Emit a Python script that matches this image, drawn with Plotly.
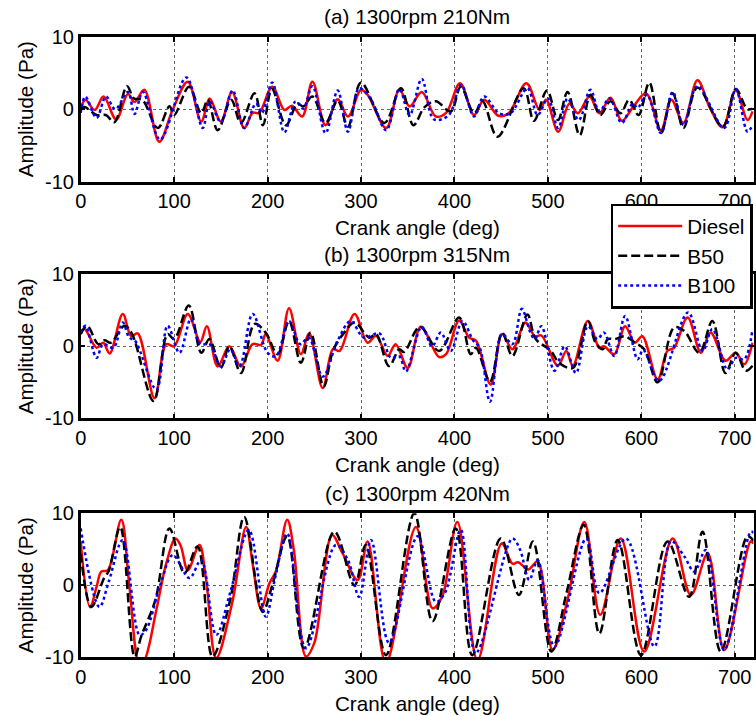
import plotly.graph_objects as go

# ---------------- data (crank angle in deg, amplitude in Pa) ----------------
panel_titles = ["(a) 1300rpm 210Nm", "(b) 1300rpm 315Nm", "(c) 1300rpm 420Nm"]
series_names = ["Diesel", "B50", "B100"]
x_ticks = [0, 100, 200, 300, 400, 500, 600, 700]
y_ticks = [-10, 0, 10]
y_tick_labels = ["-10", "0", "10"]

a_diesel_x = [0, 5, 15, 24.5, 38, 50.5, 57.6, 68, 84, 98.6, 114.6, 129, 138, 150, 162, 175, 184, 191, 205, 218, 226, 237, 248, 262, 275, 286, 300, 307, 327, 341, 352, 365, 380, 391, 406, 421, 431.7, 447, 458, 477, 491, 498, 511, 523, 532, 544.5, 555, 567, 579, 591, 605, 621, 632, 645, 660, 674, 687, 701, 713.5, 719]
a_diesel_y = [0, 1.3, -0.1, 1.75, -1.4, 2.1, 1.0, 2.7, -4.5, 0, 3.8, -1.7, 1.5, -1.7, 2.4, -2.6, -0.5, -0.5, 3.1, -0.1, 0.5, -1, 3.8, -2.2, 1.4, -1, 2.7, 2.0, -2.6, 2.7, 0.4, 2.4, -1, -0.5, 3.6, -0.8, 1.3, -0.9, -0.55, 3.6, -0.1, 1.3, -3.1, 0.8, -0.55, 1.75, -0.55, 1.6, -1.6, 0.3, 2.2, -2.9, 1.3, -1.9, 4.0, 0, -2.5, 2.6, -1.5, -0.3]

a_b50_x = [0, 4, 17, 27, 36, 49.5, 57, 66, 82.5, 95, 100, 116, 129, 136, 146.6, 161, 171.5, 186, 195, 204.6, 219.6, 232, 238, 248, 262, 275, 286, 300, 325, 342.7, 356, 368, 380, 396, 406.7, 421, 430, 446, 474, 485, 499, 510.7, 521, 534, 545.5, 556, 567, 577.6, 587, 597, 608.5, 621, 633.5, 645, 660, 687, 701, 713.5, 719]
a_b50_y = [0, 0.3, -0.8, -0.8, -1.8, 3.2, 1.5, 1.3, -2.6, 0.4, -0.8, 3.1, -0.55, 1.3, -2.9, 1.3, -1.9, 2.2, -2.2, 2.8, -2.2, 0.8, 0.4, 1.75, -1.9, 1.2, -2.4, 3.7, -1.9, 2.9, -2.2, 0.3, 1.1, -0.3, 3.1, -0.55, 1.1, -3.8, 2.9, -1.6, 2.6, -1.5, 2.4, -3.6, 2.0, -0.8, 1.1, -0.55, 1.3, -0.8, 3.7, -3.3, 2.2, -2.6, 3.0, -2.4, 2.8, 0, 0.1]

a_b100_x = [0, 5, 17, 27, 37, 50.5, 57.6, 66.5, 85, 113, 130.6, 138, 150, 162.6, 175, 187.5, 194, 205, 218, 230, 238, 248, 262, 275, 286, 298, 310, 327, 341, 352, 365, 378, 394, 407, 421, 431.7, 447.7, 460, 478, 489, 500, 511, 521, 533, 545.5, 555, 566, 579, 591, 596, 606, 621, 633.5, 645, 660, 688.6, 701, 713.5, 719]
a_b100_y = [-0.5, 1.75, -1.2, 1.75, 0, 2.4, -0.65, 2.4, -4.2, 4.4, -2.6, 1.1, -1.8, 2.6, -2.6, 0.8, -0.5, 3.7, -3.2, 1.1, 0.1, 3.2, -3.3, 2.6, -3.1, 2.9, 1.5, -2.9, 2.8, -0.8, 4.2, -1.4, -0.8, 3.4, -1, 1.75, -0.55, -0.55, 2.9, -0.8, 1.5, -2.6, 1.5, -1.5, 2.7, -0.3, 1.5, -1.9, 0.8, 0.2, 2.0, -3.3, 2.4, -2.2, 3.2, -2.6, 2.8, -3.1, -2.2]

b_diesel_x = [0, 4, 17, 24, 31, 45, 54, 61, 79, 91.5, 100, 114.6, 128, 135, 146.6, 159, 171.5, 184, 193, 198, 210.7, 223, 235.6, 244.5, 259, 270, 277, 293, 307, 316, 328.5, 337, 350, 364, 383.6, 391, 405, 415.7, 423, 438.8, 451, 462, 476, 486, 493, 510.7, 519.6, 526.7, 542.7, 555, 560, 571, 582.6, 593, 601, 617.4, 628, 635, 649.5, 663.7, 674, 690, 701, 710, 719]
b_diesel_y = [1.7, 2.4, -0.2, 0.5, -1, 4.5, 1.4, 1.8, -7.2, 0.3, 0, 4.5, 0.6, 2.8, -2.8, 0, -2.8, 0.3, 0.2, 1.7, -2, 5.3, -1.1, 1.8, -5.8, -0.4, -0.65, 4.5, 0.5, 1.45, -1.35, 0.3, -3, 2.7, -1.5, -1.1, 3.6, 1.2, 0.8, -5.3, 1.7, -0.4, 3.3, 1.4, 1.5, -2.7, -0.65, -2.7, 3.5, -0.2, 0, -1.1, 2.8, 0.5, 1.4, -4.6, -0.6, -0.2, 4, -0.9, 1.9, -2, -0.9, -2.5, 0.5]

b_b50_x = [0, 6.8, 19, 25.6, 32, 47, 55, 78, 93, 100, 115.7, 129, 137.7, 150, 159, 171.5, 186, 198, 210.7, 223, 235.6, 246, 260, 270, 282, 293, 309, 316, 330, 341, 346, 363, 383.6, 405, 417.4, 423, 438, 451, 462, 478, 487, 503, 512, 526.7, 542.7, 551, 558.7, 564, 572, 582, 593, 603, 617.4, 635, 646, 662, 676, 690, 701, 711.7, 719]
b_b50_y = [1.7, 2.85, 0.3, 0.85, 0.5, 2.85, 1.7, -7.6, 1.7, 1, 5.65, -0.9, 1, -3, 0, -3.7, 3.1, 1.9, -1.1, 3.5, -2.3, 1.9, -5.6, -0.6, 1.9, 3.3, 1.2, 1.7, -2.75, -0.4, -0.8, 2.7, -0.65, 4, -1.1, -0.2, -4.9, 1.9, -1.35, 4.4, 1, -0.6, -2.3, -3, 3.5, 0.5, -0.4, 1, 1, 1.4, 0.5, -0.4, -5, 2.6, 2.1, -0.9, 3.5, -3.7, -0.9, -3.4, -2.7]

b_b100_x = [0, 5, 17, 24, 35, 45, 52, 58, 81, 93, 105.7, 118, 128, 138, 150, 160, 170, 184, 200, 209, 223, 235, 244, 259, 275, 289, 303, 319.6, 332, 341, 348, 365, 376, 385.4, 396, 408.5, 420, 427, 438, 451, 462, 472, 481, 486, 493, 507, 518, 530, 542.7, 553, 560, 571, 582.6, 596, 602, 619, 650, 665.5, 676, 692, 701, 710, 719]
b_b100_y = [1.9, 2.85, -1.6, 0.3, -0.2, 3.3, 1.2, 0.8, -6, 2.85, -0.9, 3.8, 0.3, 0.3, -2.8, -0.4, -2.75, 4.5, -0.9, -1.35, 3.5, 0.3, 1.2, -4.2, 0.8, 3.5, 1.2, 1.8, -1.6, -1.4, -3.5, 2.7, 0, 1.9, -0.65, 3.5, 0.8, -0.2, -7.7, 1.7, 0.3, 5.2, 2, 1, 2.8, -3.4, 0, -3.7, 2.8, 1, 1.9, -1.35, 4.2, -1.8, -0.5, -4.8, 4.7, -0.65, 2.4, -3.2, -1.6, -1.8, 2.4]

c_diesel_x = [0, 10, 17, 22, 29, 43.4, 52, 63, 68, 81, 91.5, 101.4, 107, 114.6, 127, 134, 145, 162, 177, 184, 193, 202, 209, 221, 228, 241, 250, 269, 280, 296.4, 307, 326.7, 358.7, 376.5, 387, 403, 424.6, 450.5, 462, 468, 479, 489, 505, 521, 539, 556, 578, 603, 633.5, 653, 671, 688.6, 717, 720]
c_diesel_y = [6.1, -3.05, -0.2, 1.9, 2.1, 9.1, 0, -11, -10.5, -3.4, 3, 6.5, 5.5, 2.1, 5.6, 1, -10.1, -2.5, 8.1, 3, -3.2, 0.3, 2, 9.1, 5, -9.9, -8, 7, 4.5, 0.75, 6.1, -10.8, 8.1, -3.2, -1.5, 8.8, -10.4, 5.8, 3, 3.2, 2.2, 3.3, -9, -2, 8.8, -4.1, 6.5, -9.2, 6.5, -1.35, 4.4, -9, 6.1, 5.8]

c_b50_x = [0, 11.4, 25, 30, 42.3, 57.7, 65, 80, 95, 111, 125, 141, 160, 175, 194.7, 205, 221, 239, 271.5, 293, 305, 326.7, 357, 376.5, 401.4, 419, 449.5, 469, 484, 503.6, 520, 538.4, 555, 574.7, 599.6, 628, 651, 665.5, 685, 713.5, 720]
c_b50_y = [4.4, -3, 1, 2, 8.1, -9.9, -7, -2, 7.9, 1.7, 5.4, -9.9, -2, 9.5, -3.7, 0, 6.8, -8.75, 7.45, 0, 5.6, -9.7, 10, -5, 7.9, -9.7, 6.5, -1.35, 6.1, -9.2, -1, 8.4, -6.7, 6.3, -9.7, 6.1, -1.6, 7.45, -9.2, 6.8, 6.2]

c_b100_x = [0, 20, 30, 45, 63, 70, 85, 98.6, 116.4, 128.8, 145, 160, 180, 198, 208, 221, 241, 273, 286, 298, 310.7, 330, 360.5, 380, 390, 406.7, 422.8, 462, 470, 480, 489, 507, 541, 555, 583.6, 614, 631.7, 646, 656.6, 669, 688.6, 717, 720]
c_b100_y = [7.9, -3, 0.5, 6.3, -6.9, -6.2, 0, 4.2, 1, 3.5, -6.9, -1, 7.7, -4.35, 1, 7.2, -8.75, 5.6, 3.5, -1.6, 6.3, -8, 6.8, -2.3, -1, 7.7, -9.4, 6.5, 5, 0.75, 3.5, -8.5, 6.5, -1.1, 6.5, -8.5, 6.1, 4, 1.9, 4.9, -9, 7.45, 7.3]

panels = [
    [(a_diesel_x, a_diesel_y), (a_b50_x, a_b50_y), (a_b100_x, a_b100_y)],
    [(b_diesel_x, b_diesel_y), (b_b50_x, b_b50_y), (b_b100_x, b_b100_y)],
    [(c_diesel_x, c_diesel_y), (c_b50_x, c_b50_y), (c_b100_x, c_b100_y)],
]

# ---------------- styling ----------------
W, H = 756, 716
FONT = "Liberation Sans, Arial, Helvetica, sans-serif"
styles = [
    dict(color="#FF0000", width=2.5, dash="solid"),
    dict(color="#000000", width=2.5, dash="9px,4px"),
    dict(color="#0000FF", width=2.5, dash="dot"),
]

x_left, x_right = 80.7, 753.5
panel_px = [(37.0, 181.5), (274.3, 418.3), (513.3, 657.3)]

def py(p):
    return 1 - p / H

fig = go.Figure()
for i, panel in enumerate(panels):
    xa = "x" if i == 0 else f"x{i+1}"
    ya = "y" if i == 0 else f"y{i+1}"
    for j, (xs, ys) in enumerate(panel):
        fig.add_trace(go.Scatter(
            x=xs, y=ys, mode="lines", name=series_names[j],
            line=dict(shape="spline", smoothing=1.0, **styles[j]),
            xaxis=xa, yaxis=ya, showlegend=(i == 0), hoverinfo="skip",
        ))

layout = dict(
    template="none",
    width=W, height=H, autosize=False,
    margin=dict(l=0, r=0, t=0, b=0, pad=0),
    paper_bgcolor="white", plot_bgcolor="white",
    font=dict(family=FONT, size=20, color="black"),
    showlegend=True,
    legend=dict(
        x=610.7 / W, y=py(203.5), xanchor="left", yanchor="top",
        bgcolor="white", bordercolor="black", borderwidth=2.5,
        font=dict(family=FONT, size=20.6, color="black"),
        itemwidth=64, tracegroupgap=0,
    ),
)
annotations = []
for i, (top, bot) in enumerate(panel_px):
    sfx = "" if i == 0 else str(i + 1)
    layout["xaxis" + sfx] = dict(
        domain=[x_left / W, x_right / W], range=[0, 720],
        anchor="y" + sfx, tickvals=x_ticks, ticks="inside", ticklen=5,
        tickwidth=2, tickcolor="black", showline=True, mirror="ticks",
        linecolor="black", linewidth=2.5, showgrid=True, gridcolor="#666666",
        griddash="dot", gridwidth=1, zeroline=False, tickfont=dict(size=20),
        automargin=False,
    )
    layout["yaxis" + sfx] = dict(
        domain=[py(bot), py(top)], range=[-10, 10],
        anchor="x" + sfx, tickvals=y_ticks, ticktext=y_tick_labels,
        ticks="inside", ticklen=5, tickwidth=2, tickcolor="black",
        showline=True, mirror="ticks", linecolor="black", linewidth=2.5,
        showgrid=True, gridcolor="#666666", griddash="dot", gridwidth=1,
        zeroline=False, tickfont=dict(size=20), automargin=False,
    )
    annotations.append(dict(
        text=panel_titles[i], xref="paper", yref="paper",
        x=(x_left + x_right) / 2 / W, y=py(top - 20), xanchor="center",
        yanchor="middle", showarrow=False, font=dict(size=20.8),
    ))
    annotations.append(dict(
        text="Crank angle (deg)", xref="paper", yref="paper",
        x=(x_left + x_right) / 2 / W, y=py(bot + 46), xanchor="center",
        yanchor="middle", showarrow=False, font=dict(size=20.6),
    ))
    annotations.append(dict(
        text="Amplitude (Pa)", xref="paper", yref="paper",
        x=25 / W, y=py((top + bot) / 2), xanchor="center", yanchor="middle",
        textangle=-90, showarrow=False, font=dict(size=20.6),
    ))
layout["annotations"] = annotations
fig.update_layout(**layout)

fig.write_html("out.html")
